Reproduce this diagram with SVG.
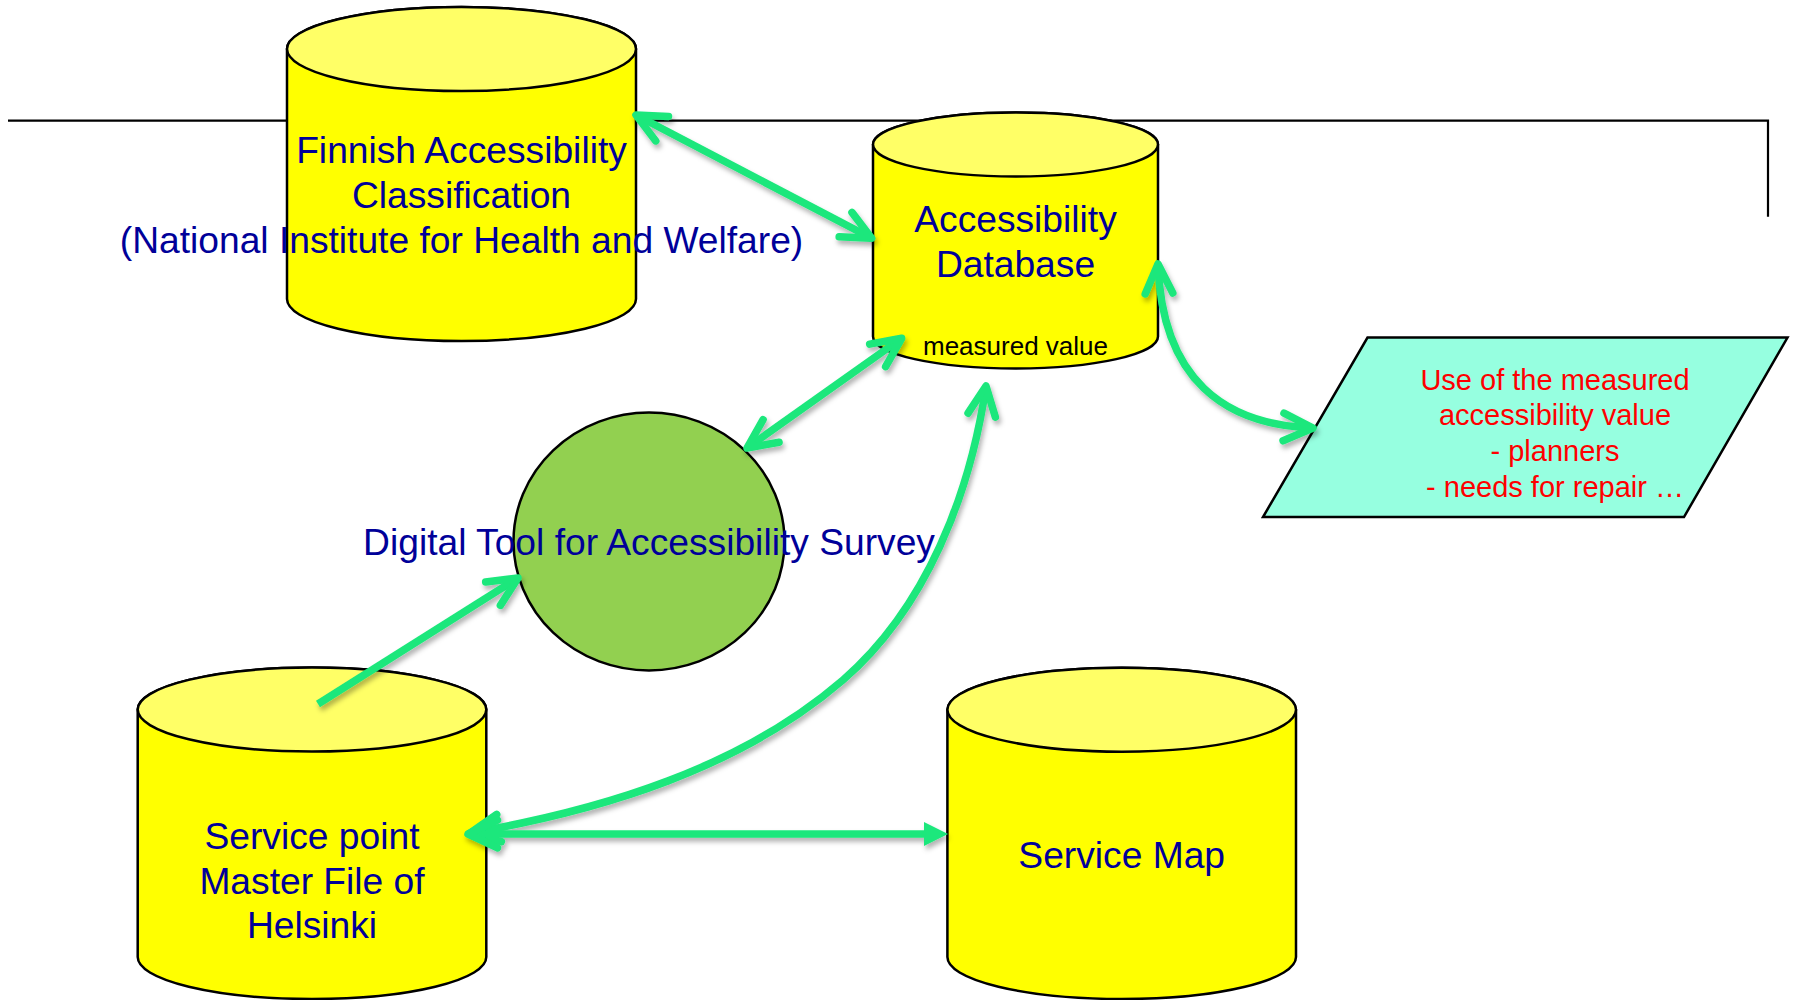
<svg xmlns="http://www.w3.org/2000/svg" width="1794" height="1000" viewBox="0 0 1794 1000">
<style>
.body{fill:#FFFF00;stroke:#000;stroke-width:2.5}
.top{fill:#FFFF66;stroke:#000;stroke-width:2.5}
.lbl{font-family:"Liberation Sans",Arial,sans-serif;font-size:37.2px;fill:#000099;text-anchor:middle}
.small{font-family:"Liberation Sans",Arial,sans-serif;font-size:26px;fill:#000;text-anchor:middle}
.red{font-family:"Liberation Sans",Arial,sans-serif;font-size:29px;fill:#FF0000;text-anchor:middle}
.con{fill:none;stroke:#1BE77B;stroke-width:7.5;stroke-linecap:butt}
</style>
<defs>
<filter id="sh" x="-10%" y="-10%" width="120%" height="130%">
<feDropShadow dx="2" dy="4" stdDeviation="2.5" flood-color="#000" flood-opacity="0.3"/>
</filter>
<marker id="v" markerUnits="userSpaceOnUse" viewBox="-40 -25 50 50" markerWidth="50" markerHeight="50" refX="0" refY="0" orient="auto-start-reverse" overflow="visible">
<path d="M-29.5,-13.8 L0,0 L-29.5,13.8" fill="none" stroke="#1BE77B" stroke-width="7.5" stroke-linecap="round" stroke-linejoin="round"/>
</marker>
<marker id="tri" markerUnits="userSpaceOnUse" viewBox="-10 -15 30 30" markerWidth="30" markerHeight="30" refX="0" refY="0" orient="auto" overflow="visible">
<path d="M-6,-12 L18,0 L-6,12 Z" fill="#1BE77B"/>
</marker>
</defs>
<rect x="0" y="0" width="1794" height="1000" fill="#FFFFFF"/>
<g id="frame-line">
<path d="M8,120.7 L1768,120.7 L1768,216.7" fill="none" stroke="#000" stroke-width="2.2"/>
</g>
<g id="finnish-classification">
<path class="body" d="M287,49 L287,299 A174.5,42 0 0 0 636,299 L636,49 A174.5,42 0 0 0 287,49 Z"/>
<ellipse class="top" cx="461.5" cy="49" rx="174.5" ry="42"/>
<text class="lbl" x="461.5" y="163">Finnish Accessibility</text>
<text class="lbl" x="461.5" y="208">Classification</text>
<text class="lbl" x="461.5" y="253">(National Institute for Health and Welfare)</text>
</g>
<g id="accessibility-database">
<path class="body" d="M873,144.5 L873,336.5 A142.5,32 0 0 0 1158,336.5 L1158,144.5 A142.5,32 0 0 0 873,144.5 Z"/>
<ellipse class="top" cx="1015.5" cy="144.5" rx="142.5" ry="32"/>
<text class="lbl" x="1015.5" y="231.7">Accessibility</text>
<text class="lbl" x="1015.5" y="276.7">Database</text>
<text class="small" x="1015.5" y="355">measured value</text>
</g>
<g id="use-of-value">
<polygon points="1367.5,337.5 1787.5,337.5 1684,517 1263,517" fill="#96FFE0" stroke="#000" stroke-width="2.5"/>
<text class="red" x="1555" y="390">Use of the measured</text>
<text class="red" x="1555" y="425">accessibility value</text>
<text class="red" x="1555" y="461">- planners</text>
<text class="red" x="1555" y="497">- needs for repair …</text>
</g>
<g id="digital-tool">
<ellipse cx="649" cy="541.5" rx="135.5" ry="129" fill="#92D050" stroke="#000" stroke-width="2.5"/>
<text class="lbl" x="649" y="555">Digital Tool for Accessibility Survey</text>
</g>
<g id="service-point-master-file">
<path class="body" d="M137.7,709.6 L137.7,957 A174.3,42 0 0 0 486.3,957 L486.3,709.6 A174.3,42 0 0 0 137.7,709.6 Z"/>
<ellipse class="top" cx="312" cy="709.6" rx="174.3" ry="42"/>
<text class="lbl" x="312" y="849">Service point</text>
<text class="lbl" x="312" y="894">Master File of</text>
<text class="lbl" x="312" y="938">Helsinki</text>
</g>
<g id="service-map">
<path class="body" d="M947.4,709.7 L947.4,957 A174.3,42 0 0 0 1296,957 L1296,709.7 A174.3,42 0 0 0 947.4,709.7 Z"/>
<ellipse class="top" cx="1121.7" cy="709.7" rx="174.3" ry="42"/>
<text class="lbl" x="1121.7" y="868.3">Service Map</text>
</g>
<g id="connectors" filter="url(#sh)">
<path class="con" d="M636,115 L871.7,238.3" marker-start="url(#v)" marker-end="url(#v)"/>
<path class="con" d="M747,448 L901.7,338.3" marker-start="url(#v)" marker-end="url(#v)"/>
<path class="con" d="M318,704 L518,578" marker-end="url(#v)"/>
<path class="con" d="M470,833 C603,810 741,768 843,680 C926,608 970,495 986,386" marker-start="url(#v)" marker-end="url(#v)"/>
<path class="con" d="M1158,264 C1162,380 1225,425 1313,428" marker-start="url(#v)" marker-end="url(#v)"/>
<path class="con" d="M468,834 L930,834" marker-start="url(#v)" marker-end="url(#tri)"/>
</g>
</svg>
